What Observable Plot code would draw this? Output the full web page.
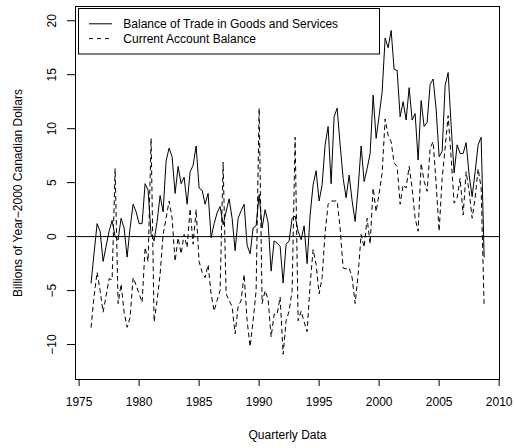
<!DOCTYPE html>
<html>
<head>
<meta charset="utf-8">
<script src="https://cdn.jsdelivr.net/npm/d3@7"></script>
<script src="https://cdn.jsdelivr.net/npm/@observablehq/plot@0.6"></script>
<style>
  html, body { margin: 0; padding: 0; background: #fff; }
  #wrap { position: relative; width: 515px; height: 448px; }
  #legend { position: absolute; left: 0; top: 0; pointer-events: none; }
</style>
</head>
<body>
<div id="wrap"></div>
<script>
// Quarterly data, first quarter of 1976 through last quarter of 2008
const startYear = 1976;
const trade = [
  -4.3, -1.5, 1.2, 0.5, -2.3, -0.9, 0.5, 1.5, 0.0, -0.3, 1.7, 0.8,
  -1.9, 0.8, 3.0, 2.3, 1.2, 1.2, 4.9, 4.3, 0.2, -0.4, 1.4, 3.8,
  2.3, 7.0, 8.2, 7.4, 4.0, 6.5, 4.9, 5.5, 3.0, 6.0, 6.6, 8.4,
  4.5, 4.3, 3.0, 4.0, -0.1, 1.2, 2.2, 2.8, 1.1, 2.3, 3.5, 1.7,
  -1.3, 1.7, 2.4, 3.0, -0.8, -1.6, 0.8, 1.0, 3.9, 0.8, 2.5, 1.3,
  -3.2, -0.4, -0.6, -0.9, -4.3, -0.7, -0.4, 1.7, 1.9, 0.5, -0.3, 1.0,
  -2.5, 2.0, 4.8, 6.1, 3.3, 4.8, 8.5, 10.2, 4.9, 11.1, 11.9, 8.5,
  5.4, 3.6, 5.7, 3.3, 1.4, 4.5, 8.4, 5.1, 6.3, 7.7, 13.1, 9.1,
  11.2, 13.4, 18.4, 17.5, 19.1, 15.5, 15.4, 11.1, 12.5, 10.8, 13.8, 10.8,
  11.4, 7.1, 12.6, 10.2, 10.6, 14.1, 14.6, 11.8, 7.4, 7.9, 14.0, 15.2,
  10.3, 5.9, 8.5, 7.7, 7.7, 8.7, 5.7, 3.7, 6.0, 8.5, 9.2, -1.9
];
const current = [
  -8.4, -5.5, -3.3, -5.0, -7.0, -5.5, -3.9, -4.0, 6.3, -6.2, -4.4, -7.0,
  -8.4, -7.5, -3.8, -4.5, -5.3, -6.1, -1.0, -2.3, 9.1, -7.9, -5.9, -3.5,
  0.2, 1.7, 3.3, 1.7, -2.3, -0.1, -1.6, 0.2, -1.0, 2.6, -0.7, 2.5,
  -2.3, -3.3, -3.8, -2.6, -5.3, -6.9, -5.9, -5.0, 6.9, -5.3, -5.9, -6.5,
  -9.0, -6.5, -5.9, -3.5, -7.8, -10.2, -7.8, -5.0, 11.9, -6.2, -5.0, -5.8,
  -9.3, -7.2, -7.2, -5.6, -10.9, -7.8, -6.9, -5.0, 9.2, -7.8, -6.9, -7.9,
  -8.8, -4.4, -1.2, -2.6, -5.3, -3.8, 0.4, 3.0, 3.3, 3.3, 3.3, 0.8,
  -2.9, -3.0, -2.9, -3.8, -6.2, -3.5, 0.2, -1.0, 1.7, -0.7, 4.5, 2.3,
  4.0, 5.9, 10.9, 9.4, 8.8, 6.8, 6.5, 3.0, 4.8, 4.5, 6.5, 4.5,
  1.7, 0.5, 6.8, 5.1, 4.2, 8.2, 8.8, 4.9, 0.5, 5.4, 8.2, 11.2,
  7.3, 3.1, 3.6, 5.4, 2.0, 6.0, 4.2, 1.7, 3.6, 6.3, 4.5, -6.5
];
const xTicks = [1975, 1980, 1985, 1990, 1995, 2000, 2005, 2010];
const yTicks = [-10, -5, 0, 5, 10, 15, 20];
const seriesNames = ["Balance of Trade in Goods and Services", "Current Account Balance"];
const xTitle = "Quarterly Data";
const yTitle = "Billions of Year\u22122000 Canadian Dollars";

const tradeRows = trade.map((v, i) => ({t: startYear + i / 4, v}));
const currentRows = current.map((v, i) => ({t: startYear + i / 4, v}));
const fmt = d => d < 0 ? "\u2212" + Math.abs(d) : String(d);

const chart = Plot.plot({
  width: 515,
  height: 448,
  marginLeft: 75,
  marginRight: 16,
  marginTop: 6,
  marginBottom: 69,
  style: {fontFamily: "'Liberation Sans', Arial, Helvetica, sans-serif", fontSize: "12px", color: "#000", background: "#fff"},
  x: {domain: [1974.70, 2010.03], axis: null},
  y: {domain: [-13.24, 21.32], axis: null},
  marks: [
    Plot.ruleY([0], {stroke: "#000", strokeWidth: 1}),
    Plot.line(tradeRows, {x: "t", y: "v", stroke: "#000", strokeWidth: 1}),
    Plot.line(currentRows, {x: "t", y: "v", stroke: "#000", strokeWidth: 1, strokeDasharray: "4,4"}),
    Plot.frame({stroke: "#000", strokeWidth: 1}),
    Plot.axisX({ticks: xTicks, tickSize: 7, tickPadding: 11, tickFormat: d => String(d), fontSize: 12, label: null}),
    Plot.axisY({ticks: yTicks, tickSize: 8, tickFormat: () => "", label: null}),
    Plot.text(yTicks, {y: d => d, frameAnchor: "left", textAnchor: "middle", lineAnchor: "middle", dx: -23, rotate: -90, text: fmt, fontSize: 12}),
    Plot.text([xTitle], {frameAnchor: "bottom", textAnchor: "middle", dy: 59, fontSize: 12}),
    Plot.text([yTitle], {frameAnchor: "left", textAnchor: "middle", lineAnchor: "middle", dx: -57, rotate: -90, fontSize: 12})
  ]
});
const wrap = document.getElementById("wrap");
wrap.appendChild(chart);

// Legend overlay (top-left, inside the plot box)
const lg = d3.select(wrap).append("svg")
  .attr("id", "legend").attr("width", 515).attr("height", 448)
  .style("font-family", "'Liberation Sans', Arial, Helvetica, sans-serif")
  .style("font-size", "12px");
lg.append("rect").attr("x", 78.5).attr("y", 8.5).attr("width", 301).attr("height", 45.5)
  .attr("fill", "#fff").attr("stroke", "#000");
const rowsY = [23.8, 38.6];
const dashes = [null, "4,4"];
seriesNames.forEach((name, k) => {
  lg.append("line").attr("x1", 89).attr("x2", 112).attr("y1", rowsY[k]).attr("y2", rowsY[k])
    .attr("stroke", "#000").attr("stroke-dasharray", dashes[k]);
  lg.append("text").attr("x", 123.3).attr("y", rowsY[k]).attr("dy", "0.35em").text(name);
});
</script>
</body>
</html>
